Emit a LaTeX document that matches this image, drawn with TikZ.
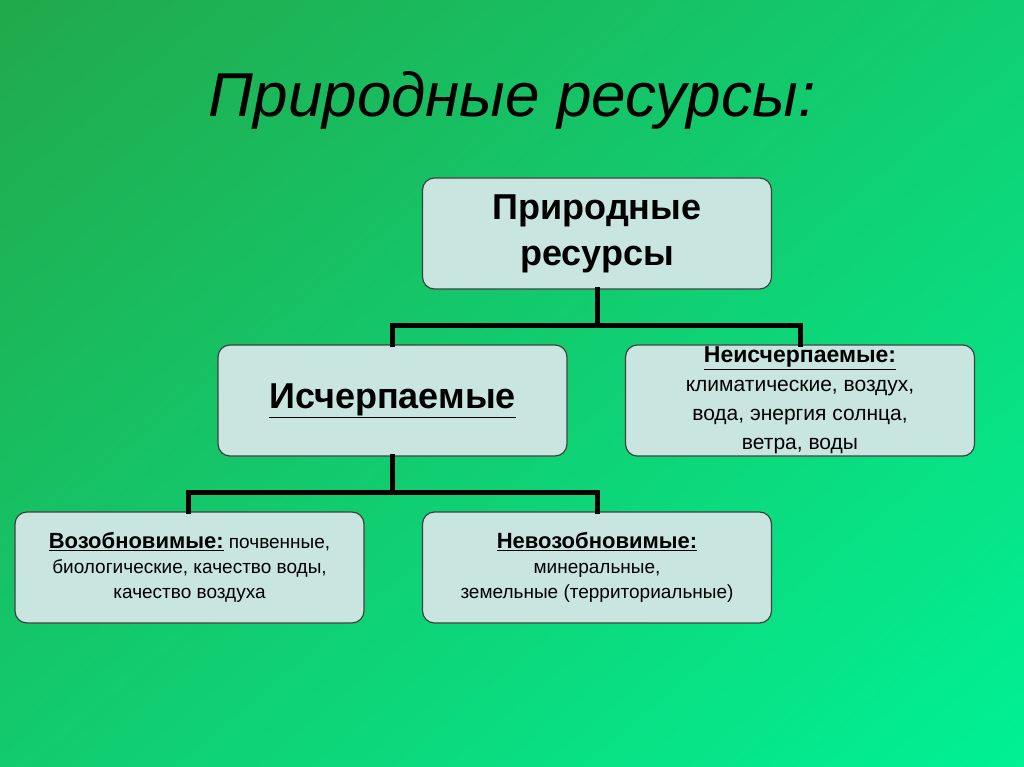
\documentclass[tikz,border=0pt]{standalone}
\usepackage{fontspec}
\setmainfont{Liberation Sans}
\begin{document}
\begin{tikzpicture}[x=1pt,y=-1pt,
 box/.style={draw=black!75,line width=1.2pt,fill=boxc,rounded corners=12pt,minimum width=349pt,minimum height=111pt,align=center,inner sep=2pt},
 con/.style={line width=5pt,line cap=rect}]
\definecolor{boxc}{HTML}{C8E6DF}
\definecolor{ga}{HTML}{22A84A}
\definecolor{gb}{HTML}{00F296}
\useasboundingbox (0,0) rectangle (1024,767);
\shade[shading=axis,top color=ga,bottom color=gb,shading angle=40] (-200,-200) rectangle (1224,967);
\node (title) at (512,100) {\fontsize{62}{70}\selectfont\itshape Природные ресурсы:};
\node[box,font=\fontsize{36}{46}\selectfont\bfseries] (a) at (597,233.5) {Природные\\ресурсы};
\node[box,font=\fontsize{36}{42}\selectfont\bfseries] (b) at (392.5,400.5) {\underline{Исчерпаемые}};
\node[box,font=\fontsize{21}{29}\selectfont] (c) at (800,400.5) {\fontsize{23}{29}\selectfont\bfseries\underline{Неисчерпаемые:}\\климатические, воздух,\\вода, энергия солнца,\\ветра, воды};
\node[box,font=\fontsize{19}{25}\selectfont] (d) at (189.5,567.5) {{\fontsize{22}{25}\selectfont\bfseries\underline{Возобновимые:}} почвенные,\\биологические, качество воды,\\качество воздуха};
\node[box,font=\fontsize{19}{25}\selectfont] (e) at (597,567.5) {\fontsize{22}{25}\selectfont\bfseries\underline{Невозобновимые:}\\минеральные,\\земельные (территориальные)};
\coordinate (j1) at (597,325);
\coordinate (j2) at (392,492);
\draw[con] (a.south) -- (j1);
\draw[con] (b.north -| 392,0) |- (j1) -| (c.north);
\draw[con] (b.south -| j2) -- (j2);
\draw[con] (d.north -| 188,0) |- (j2) -| (e.north);
\end{tikzpicture}
\end{document}
